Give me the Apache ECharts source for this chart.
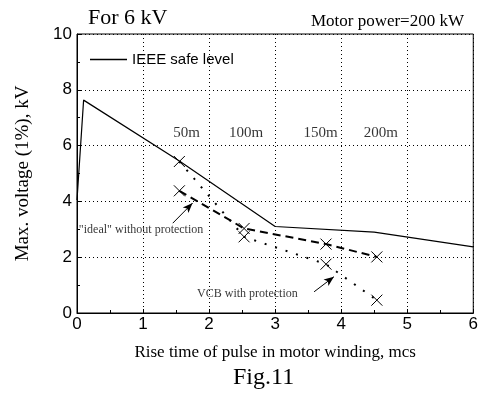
<!DOCTYPE html>
<html>
<head>
<meta charset="utf-8">
<script src="https://cdn.jsdelivr.net/npm/echarts@6/dist/echarts.min.js"></script>
<style>
  html, body { margin: 0; padding: 0; background: #fff; }
  #chart { width: 481px; height: 394px; }
</style>
</head>
<body>
<div id="chart"></div>
<script>
// IEEE safe level curve
const ieeeX = [0, 0.1, 1.55, 3.0, 4.5, 6.0];
const ieeeY = [4.05, 7.63, 5.45, 3.1, 2.9, 2.37];

// measured points, cable lengths 50/100/150/200 m
const riseIdeal = [1.55, 2.53, 3.77, 4.54];
const voltIdeal = [4.38, 3.03, 2.47, 2.01];
const riseVcb = [1.55, 2.53, 3.77, 4.54];
const voltVcb = [5.43, 2.73, 1.75, 0.46];

// cable length labels
const lengthNames = ['50m', '100m', '150m', '200m'];
const lengthX = [1.66, 2.56, 3.69, 4.6];
const lengthY = [6.45, 6.45, 6.45, 6.45];

// annotation texts and arrows [tailX, tailY, headX, headY]
const noteTexts = ['"ideal" without protection', 'VCB with protection'];
const noteX = [0.97, 2.58];
const noteY = [2.97, 0.7];
const noteArrows = [
    [1.45, 3.22, 1.75, 3.94],
    [3.59, 0.76, 3.89, 1.3],
];

const xTicks = [0, 1, 2, 3, 4, 5, 6];
const yTicks = [0, 2, 4, 6, 8, 10];

const serif = '"Liberation Serif", "Times New Roman", serif';
const sans = '"Liberation Sans", Arial, sans-serif';
const cross = 'path://M0,0L10,10M10,0L0,10';

const zip = (xs, ys) => xs.map((x, i) => [x, ys[i]]);

const chart = echarts.init(document.getElementById('chart'));

chart.setOption({
    animation: false,
    grid: {
        left: 77, right: 6, top: 34, bottom: 81,
        show: true, borderColor: '#000', borderWidth: 1,
    },
    legend: {
        data: [{name: 'IEEE safe level', icon: 'rect'}],
        left: 85, top: 47,
        itemWidth: 37, itemHeight: 1.3, itemGap: 6,
        textStyle: {fontFamily: sans, fontSize: 15, color: '#000'},
    },
    graphic: [
        {type: 'text', left: 88, top: 7, style: {text: 'For 6 kV', font: '22px ' + serif, fill: '#000'}},
        {type: 'text', right: 17, top: 13, style: {text: 'Motor power=200 kW', font: '17px ' + serif, fill: '#000'}},
        {type: 'text', left: 233, top: 366, style: {text: 'Fig.11', font: '24px ' + serif, fill: '#000'}},
    ],
    xAxis: {
        type: 'value', min: xTicks[0], max: xTicks[xTicks.length - 1], interval: 1,
        name: 'Rise time of pulse in motor winding, mcs',
        nameLocation: 'middle', nameGap: 31,
        nameTextStyle: {fontFamily: serif, fontSize: 17, color: '#000'},
        axisLine: {lineStyle: {color: '#000', width: 1}},
        axisTick: {inside: true, length: 4, lineStyle: {color: '#000'}},
        minorTick: {show: true, splitNumber: 2, length: 3, lineStyle: {color: '#000'}},
        axisLabel: {fontFamily: sans, fontSize: 17, color: '#000', margin: 3},
        splitLine: {show: true, lineStyle: {color: '#000', type: [1, 3], width: 1}},
    },
    yAxis: {
        type: 'value', min: yTicks[0], max: yTicks[yTicks.length - 1], interval: 2,
        name: 'Max. voltage (1%), kV',
        nameLocation: 'middle', nameGap: 44,
        nameTextStyle: {fontFamily: serif, fontSize: 19, color: '#000'},
        axisLine: {lineStyle: {color: '#000', width: 1}},
        axisTick: {inside: true, length: 4, lineStyle: {color: '#000'}},
        minorTick: {show: true, splitNumber: 2, length: 3, lineStyle: {color: '#000'}},
        axisLabel: {fontFamily: sans, fontSize: 17, color: '#000', margin: 5},
        splitLine: {show: true, lineStyle: {color: '#000', type: [1, 3], width: 1}},
    },
    series: [
        {
            name: 'IEEE safe level', type: 'line', data: zip(ieeeX, ieeeY),
            symbol: 'none', color: '#000',
            lineStyle: {color: '#000', width: 1.2},
        },
        {
            name: 'ideal', type: 'line', data: zip(riseIdeal, voltIdeal),
            symbol: cross, symbolSize: 11,
            itemStyle: {color: 'transparent', borderColor: '#000', borderWidth: 1},
            lineStyle: {color: '#000', width: 2, type: [8, 5]},
        },
        {
            name: 'vcb', type: 'line', data: zip(riseVcb, voltVcb),
            symbol: cross, symbolSize: 11,
            itemStyle: {color: 'transparent', borderColor: '#000', borderWidth: 1},
            lineStyle: {color: '#000', width: 2, type: [2, 9]},
        },
        {
            name: 'lengths', type: 'scatter', data: zip(lengthX, lengthY),
            symbolSize: 0, silent: true,
            label: {
                show: true, position: 'inside',
                formatter: p => lengthNames[p.dataIndex],
                fontFamily: serif, fontSize: 15, color: '#000',
            },
        },
        {
            name: 'notes', type: 'scatter', data: zip(noteX, noteY),
            symbolSize: 0, silent: true,
            label: {
                show: true, position: 'inside',
                formatter: p => noteTexts[p.dataIndex],
                fontFamily: serif, fontSize: 12, color: '#000',
            },
            markLine: {
                silent: true, symbol: ['none', 'arrow'], symbolSize: [6, 10],
                label: {show: false},
                lineStyle: {color: '#000', width: 1, type: 'solid'},
                data: noteArrows.map(a => [{coord: [a[0], a[1]]}, {coord: [a[2], a[3]]}]),
            },
        },
    ],
});
</script>
</body>
</html>
